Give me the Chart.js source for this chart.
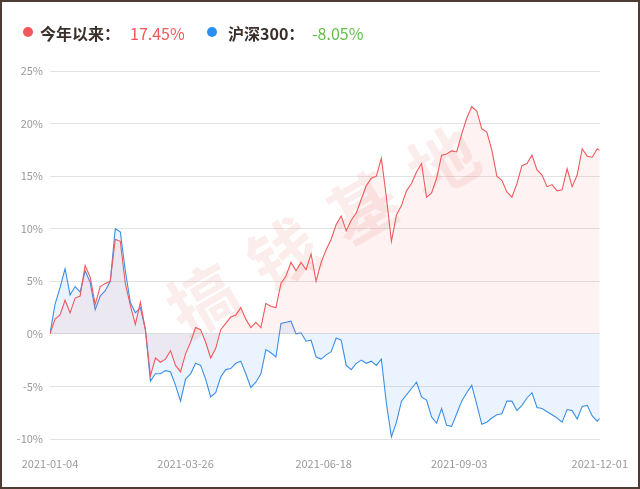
<!DOCTYPE html>
<html>
<head>
<meta charset="utf-8">
<script src="https://cdn.jsdelivr.net/npm/chart.js@4/dist/chart.umd.min.js"></script>
<style>
  body { margin: 0; background: #fff; }
  #wrap { position: relative; width: 640px; height: 489px; box-sizing: border-box; border: 2px solid #4d3c33; background: #fff; }
  #chart { position: absolute; left: 0; top: 0; }
  .lg { position: absolute; top: 20px; font-family: "Noto Sans CJK SC", "Noto Sans", sans-serif; font-size: 16px; line-height: 22px; white-space: nowrap; }
  .dot { position: absolute; top: 25px; width: 10px; height: 10px; border-radius: 50%; }
</style>
</head>
<body>
<div id="wrap">
  <canvas id="chart" width="636" height="485"></canvas>
  <span class="dot" style="left:21px;background:#f2585b"></span>
  <span class="lg" style="left:38px;font-weight:bold;color:#3b2f2a">今年以来：</span>
  <span class="lg" style="left:128px;color:#f2585b">17.45%</span>
  <span class="dot" style="left:205px;background:#2b8ef0"></span>
  <span class="lg" style="left:226px;font-weight:bold;color:#3b2f2a">沪深300：</span>
  <span class="lg" style="left:310px;color:#5fbf45">-8.05%</span>
</div>
<script>
// values in %, one sample about every 2 trading days (last = 2021-12-01)
const fundReturn = [
  0, 1.4, 1.8, 3.2, 2.0, 3.4, 3.6, 6.5, 5.4, 2.8,
  4.5, 4.8, 5.0, 9.0, 8.8, 4.8, 2.7, 0.9, 3.0, 0.4,
  -4.0, -2.3, -2.7, -2.4, -1.6, -3.0, -3.6, -1.9, -0.8, 0.6,
  0.4, -0.8, -2.3, -1.4, 0.4, 1.0, 1.6, 1.8, 2.5, 1.4,
  0.6, 1.1, 0.6, 2.9, 2.6, 2.5, 4.8, 5.5, 6.8, 6.0,
  6.8, 6.1, 7.6, 5.0, 6.8, 8.0, 9.0, 10.4, 11.2, 9.8,
  10.8, 11.5, 12.8, 14.1, 14.8, 15.0, 16.7, 13.0, 8.8, 11.3,
  12.2, 13.6, 14.3, 15.4, 16.2, 13.0, 13.4, 14.8, 17.0, 17.1,
  17.4, 17.3, 19.0, 20.5, 21.6, 21.2, 19.5, 19.2, 17.5, 15.0,
  14.6, 13.5, 13.0, 14.3, 16.0, 16.2, 17.0, 15.6, 15.1, 14.0,
  14.2, 13.6, 13.7, 15.7, 14.0, 15.1, 17.6, 16.9, 16.8, 17.6,
  17.45
];
const hs300Return = [
  0, 2.8, 4.4, 6.2, 3.7, 4.5, 4.0, 6.0, 4.9, 2.3,
  3.6, 4.1, 5.0, 10.0, 9.7, 6.0, 3.0, 2.0, 2.5, 0.4,
  -4.5, -3.8, -3.8, -3.5, -3.6, -4.9, -6.4, -4.3, -3.8, -2.8,
  -3.0, -4.3, -6.0, -5.6, -4.1, -3.4, -3.3, -2.8, -2.6, -3.8,
  -5.1, -4.6, -3.8, -1.5, -1.8, -2.2, 1.0, 1.1, 1.2, 0.0,
  0.1, -0.7, -0.6, -2.2, -2.4, -2.0, -1.7, -0.4, -0.6, -3.0,
  -3.4, -2.8, -2.5, -2.8, -2.6, -3.0, -2.4, -6.6, -9.8, -8.4,
  -6.4, -5.8, -5.2, -4.6, -6.0, -6.3, -7.9, -8.5, -7.1, -8.7,
  -8.8, -7.6, -6.4, -5.6, -4.9, -6.7, -8.6, -8.4, -8.0, -7.7,
  -7.6, -6.4, -6.4, -7.3, -6.8, -6.1, -5.6, -7.0, -7.1, -7.4,
  -7.7, -8.0, -8.4, -7.2, -7.3, -8.1, -6.9, -6.8, -7.8, -8.3,
  -8.05
];
const lastDay = 219;
const tickDays = [0, 54, 109, 163, 219];
const tickLabels = ['2021-01-04', '2021-03-26', '2021-06-18', '2021-09-03', '2021-12-01'];
const yTicks = [-10, -5, 0, 5, 10, 15, 20, 25];
const watermark = ['搞', '钱', '基', '地'];

const dayOf = (i, arr) => (i === arr.length - 1 ? lastDay : i * 2);
const toPoints = arr => arr.map((v, i) => ({ x: dayOf(i, arr), y: v }));

const watermarkPlugin = {
  id: 'watermark',
  beforeDatasetsDraw(chart) {
    const ctx = chart.ctx;
    const centers = [[201, 298], [281, 252], [361, 206], [441, 160]];
    ctx.save();
    ctx.font = 'bold 68px "Noto Sans CJK SC"';
    ctx.fillStyle = 'rgba(225, 130, 110, 0.14)';
    ctx.textAlign = 'center';
    ctx.textBaseline = 'middle';
    watermark.forEach((ch, i) => {
      ctx.save();
      ctx.translate(centers[i][0], centers[i][1]);
      ctx.rotate(-Math.PI / 6);
      ctx.fillText(ch, 0, 0);
      ctx.restore();
    });
    ctx.restore();
  }
};

new Chart(document.getElementById('chart'), {
  type: 'line',
  data: {
    datasets: [
      {
        label: '今年以来',
        data: toPoints(fundReturn),
        borderColor: '#f05a5d',
        backgroundColor: 'rgba(245, 90, 90, 0.08)',
        borderWidth: 1.1,
        pointRadius: 0,
        fill: 'origin',
        tension: 0
      },
      {
        label: '沪深300',
        data: toPoints(hs300Return),
        borderColor: '#3b8fe8',
        backgroundColor: 'rgba(60, 150, 245, 0.1)',
        borderWidth: 1.1,
        pointRadius: 0,
        fill: 'origin',
        tension: 0
      }
    ]
  },
  options: {
    responsive: false,
    animation: false,
    layout: { padding: { top: 69, right: 21, left: 0, bottom: 0 } },
    plugins: { legend: { display: false }, tooltip: { enabled: false } },
    scales: {
      x: {
        type: 'linear',
        min: 0,
        max: lastDay,
        grid: { display: false },
        border: { display: false },
        afterBuildTicks: s => { s.ticks = tickDays.map(v => ({ value: v })); },
        afterFit: s => { s.height = 48; },
        ticks: {
          autoSkip: false,
          maxRotation: 0,
          padding: 10,
          color: '#999',
          font: { size: 11, family: '"Noto Sans CJK SC", "Noto Sans", sans-serif' },
          callback: v => tickLabels[tickDays.indexOf(v)]
        }
      },
      y: {
        min: -10,
        max: 25,
        afterBuildTicks: s => { s.ticks = yTicks.map(v => ({ value: v })); },
        afterFit: s => { s.width = 48; },
        grid: { color: '#e3e3e3', drawTicks: false },
        border: { display: false },
        ticks: {
          padding: 7,
          color: '#999',
          font: { size: 11, family: '"Noto Sans CJK SC", "Noto Sans", sans-serif' },
          callback: v => v + '%'
        }
      }
    }
  },
  plugins: [watermarkPlugin]
});
</script>
</body>
</html>
